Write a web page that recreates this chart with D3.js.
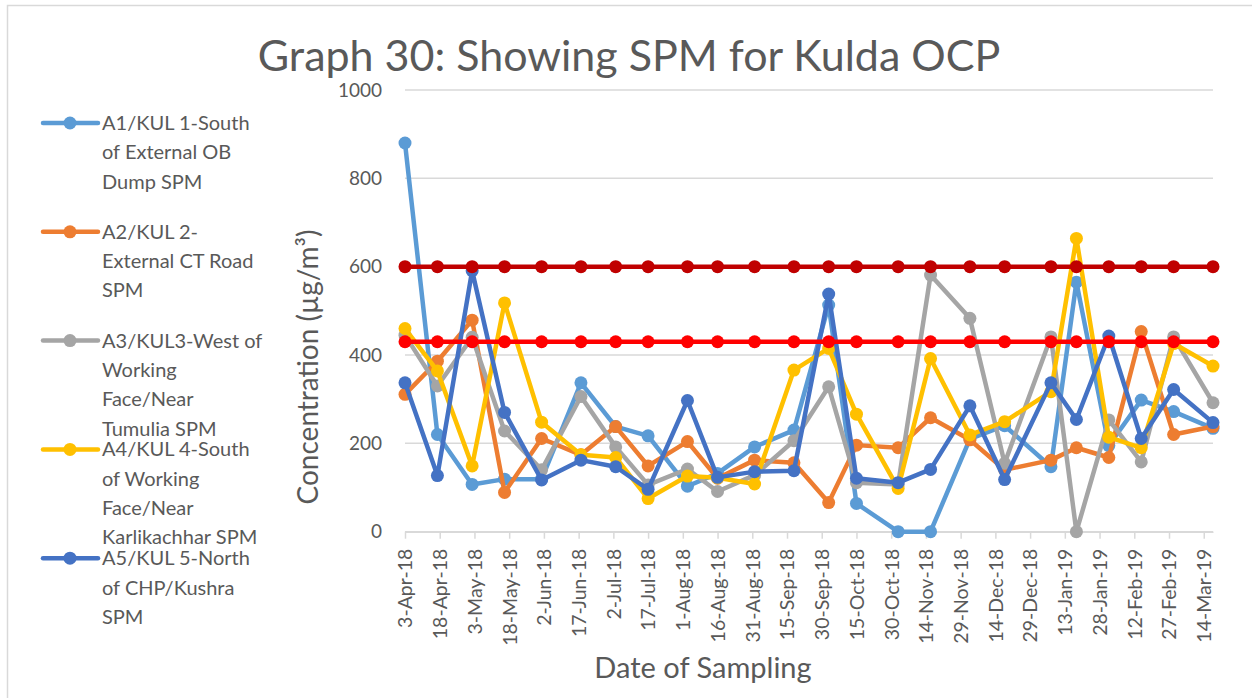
<!DOCTYPE html>
<html>
<head>
<meta charset="utf-8">
<script src="https://cdn.jsdelivr.net/npm/d3@7"></script>
<style>
  body { margin: 0; background: #fff; }
  text { font-family: Lato, "Open Sans", sans-serif; fill: #595959; }
</style>
</head>
<body>
<svg id="chart" width="1252" height="698"></svg>
<script>
// sampling dates
const sampleDates = ["2018-04-03", "2018-04-17", "2018-05-02", "2018-05-16", "2018-06-01", "2018-06-18",
    "2018-07-03", "2018-07-17", "2018-08-03", "2018-08-16", "2018-09-01", "2018-09-18",
    "2018-10-03", "2018-10-15", "2018-11-02", "2018-11-16", "2018-12-03", "2018-12-18",
    "2019-01-07", "2019-01-18", "2019-02-01", "2019-02-15", "2019-03-01", "2019-03-18"];

// SPM values (ug/m3)
const a1 = [880, 220, 107, 119, 119, 337, 238, 217, 103, 132, 192, 230, 513, 64, 0, 0, 210, 240, 147, 565, 195, 298, 272, 234];
const a2 = [311, 386, 479, 89, 211, 174, 238, 149, 204, 121, 162, 156, 66, 196, 190, 258, 208, 140, 162, 190, 168, 453, 220, 238];
const a3 = [445, 330, 440, 228, 140, 306, 192, 106, 142, 91, 128, 206, 328, 111, 107, 581, 483, 155, 441, 0, 253, 158, 441, 292];
const a4 = [460, 364, 149, 518, 248, 174, 168, 75, 126, 122, 108, 366, 415, 266, 98, 392, 219, 249, 317, 664, 214, 190, 426, 375];
const a5 = [337, 127, 591, 270, 117, 162, 147, 96, 297, 123, 136, 138, 538, 121, 111, 141, 285, 118, 337, 254, 443, 211, 322, 247];

// permissible limits
const limitHigh = [600, 600, 600, 600, 600, 600, 600, 600, 600, 600, 600, 600, 600, 600, 600, 600, 600, 600, 600, 600, 600, 600, 600, 600];
const limitLow = [430, 430, 430, 430, 430, 430, 430, 430, 430, 430, 430, 430, 430, 430, 430, 430, 430, 430, 430, 430, 430, 430, 430, 430];

const seriesNames = [
    ["A1/KUL 1-South", "of External OB", "Dump SPM"],
    ["A2/KUL 2-", "External CT Road", "SPM"],
    ["A3/KUL3-West of", "Working", "Face/Near", "Tumulia SPM"],
    ["A4/KUL 4-South", "of Working", "Face/Near", "Karlikachhar SPM"],
    ["A5/KUL 5-North", "of CHP/Kushra", "SPM"]
];
const seriesColors = ["#5B9BD5", "#ED7D31", "#A5A5A5", "#FFC000", "#4472C4"];

const xTickLabels = ["3-Apr-18", "18-Apr-18", "3-May-18", "18-May-18", "2-Jun-18", "17-Jun-18", "2-Jul-18",
    "17-Jul-18", "1-Aug-18", "16-Aug-18", "31-Aug-18", "15-Sep-18", "30-Sep-18", "15-Oct-18", "30-Oct-18",
    "14-Nov-18", "29-Nov-18", "14-Dec-18", "29-Dec-18", "13-Jan-19", "28-Jan-19", "12-Feb-19", "27-Feb-19", "14-Mar-19"];
const yTicks = [0, 200, 400, 600, 800, 1000];

const plot = { left: 405, right: 1213, top: 90, bottom: 531.7 };

const parseDate = d3.timeParse("%Y-%m-%d");
const parseTick = d3.timeParse("%d-%b-%y");
const fmtTick = d3.timeFormat("%-d-%b-%y");
const dates = sampleDates.map(parseDate);
const tickDates = xTickLabels.map(parseTick);

const svg = d3.select("#chart");

// chart border
svg.append("rect")
    .attr("x", 7.5).attr("y", 5.5)
    .attr("width", 1400).attr("height", 900)
    .attr("fill", "none").attr("stroke", "#D9D9D9").attr("stroke-width", 1.5);

const xScale = d3.scaleTime()
    .domain([dates[0], dates[dates.length - 1]])
    .range([plot.left, plot.right]);

const yScale = d3.scaleLinear()
    .domain([0, 1000])
    .range([plot.bottom, plot.top]);

// gridlines
svg.append("g")
    .selectAll("line")
    .data(yTicks)
    .enter().append("line")
    .attr("x1", plot.left).attr("x2", plot.right)
    .attr("y1", d => yScale(d)).attr("y2", d => yScale(d))
    .attr("stroke", "#D9D9D9").attr("stroke-width", 1.5);

// y axis labels
const yAxis = svg.append("g")
    .attr("transform", "translate(" + plot.left + ",0)")
    .call(d3.axisLeft(yScale).tickValues(yTicks).tickFormat(d3.format("d")).tickSize(0).tickPadding(23));
yAxis.select(".domain").remove();
yAxis.selectAll("text")
    .style("font-size", "19px")
    .style("font-family", "Lato, sans-serif")
    .attr("fill", "#595959");

// x axis
const xAxis = svg.append("g")
    .attr("transform", "translate(0," + plot.bottom + ")")
    .call(d3.axisBottom(xScale).tickValues(tickDates).tickFormat(fmtTick).tickSize(7).tickSizeOuter(0));
xAxis.select(".domain").attr("stroke", "#D9D9D9").attr("stroke-width", 1.5);
xAxis.selectAll(".tick line").attr("stroke", "#D9D9D9").attr("stroke-width", 1.5);
xAxis.selectAll("text")
    .attr("transform", "rotate(-90)")
    .attr("text-anchor", "end")
    .attr("x", -17)
    .attr("y", 0)
    .attr("dy", "0.35em")
    .style("font-size", "19.5px")
    .style("font-family", "Lato, sans-serif")
    .attr("fill", "#595959");

const line = d3.line()
    .x((d, i) => xScale(dates[i]))
    .y(d => yScale(d));

const allSeries = [
    { values: a1, color: seriesColors[0] },
    { values: a2, color: seriesColors[1] },
    { values: a3, color: seriesColors[2] },
    { values: a4, color: seriesColors[3] },
    { values: a5, color: seriesColors[4] },
    { values: limitHigh, color: "#C00000" },
    { values: limitLow, color: "#FF0000" }
];

allSeries.forEach(s => {
    const g = svg.append("g");
    g.append("path")
        .datum(s.values)
        .attr("d", line)
        .attr("fill", "none")
        .attr("stroke", s.color)
        .attr("stroke-width", 4.5)
        .attr("stroke-linejoin", "round")
        .attr("stroke-linecap", "round");
    g.selectAll("circle")
        .data(s.values)
        .enter().append("circle")
        .attr("cx", (d, i) => xScale(dates[i]))
        .attr("cy", d => yScale(d))
        .attr("r", 6.5)
        .attr("fill", s.color);
});

// title
svg.append("text")
    .attr("x", 629).attr("y", 71)
    .attr("text-anchor", "middle")
    .style("font-size", "43px")
    .text("Graph 30: Showing SPM for Kulda OCP");

// axis titles
svg.append("text")
    .attr("transform", "translate(318,367) rotate(-90)")
    .attr("text-anchor", "middle")
    .style("font-size", "28px")
    .text("Concentration (µg/m³)");

svg.append("text")
    .attr("x", 703).attr("y", 678)
    .attr("text-anchor", "middle")
    .style("font-size", "29px")
    .text("Date of Sampling");

// legend
const legend = svg.append("g");
seriesNames.forEach((lines, i) => {
    const y0 = 123 + i * 108.8;
    legend.append("line")
        .attr("x1", 43).attr("x2", 98)
        .attr("y1", y0).attr("y2", y0)
        .attr("stroke", seriesColors[i]).attr("stroke-width", 4.5)
        .attr("stroke-linecap", "round");
    legend.append("circle")
        .attr("cx", 70).attr("cy", y0).attr("r", 6.5)
        .attr("fill", seriesColors[i]);
    lines.forEach((t, j) => {
        legend.append("text")
            .attr("x", 102).attr("y", y0 + j * 29.3)
            .attr("dy", "0.35em")
            .style("font-size", "20px")
            .text(t);
    });
});
</script>
</body>
</html>
